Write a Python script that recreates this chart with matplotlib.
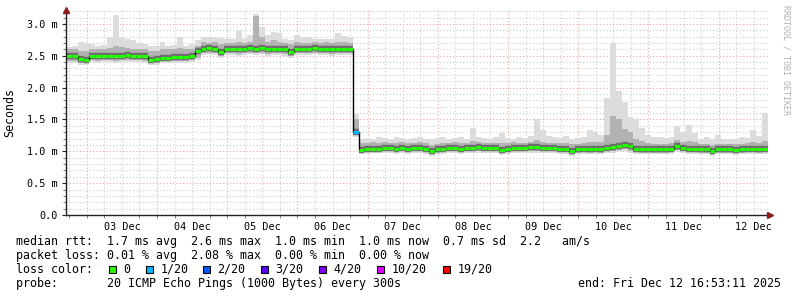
import matplotlib
matplotlib.use('Agg')
import matplotlib.pyplot as plt
from matplotlib.patches import Rectangle
import numpy as np

# smokeping style latency graph, 10 days, 2 hour buckets
# hours counted from the start of the graph (Dec 02 16:53:11)
step_h = 2
n = 120

med = [2.49, 2.49, 2.45, 2.44, 2.50, 2.49, 2.50, 2.50, 2.49, 2.50,
       2.51, 2.50, 2.50, 2.50, 2.44, 2.45, 2.47, 2.47, 2.48, 2.48,
       2.48, 2.50, 2.58, 2.61, 2.62, 2.61, 2.56, 2.61, 2.61, 2.60,
       2.61, 2.62, 2.61, 2.62, 2.60, 2.61, 2.61, 2.60, 2.56, 2.61,
       2.61, 2.61, 2.62, 2.61, 2.61, 2.60, 2.61, 2.61, 2.61, 1.30,
       1.02, 1.03, 1.04, 1.04, 1.05, 1.05, 1.04, 1.05, 1.04, 1.05,
       1.05, 1.04, 1.00, 1.03, 1.04, 1.05, 1.05, 1.04, 1.05, 1.05,
       1.06, 1.05, 1.05, 1.05, 1.02, 1.04, 1.05, 1.05, 1.05, 1.06,
       1.07, 1.05, 1.05, 1.05, 1.04, 1.04, 1.01, 1.03, 1.04, 1.03,
       1.04, 1.03, 1.05, 1.06, 1.08, 1.10, 1.08, 1.04, 1.03, 1.03,
       1.03, 1.03, 1.03, 1.04, 1.09, 1.05, 1.04, 1.04, 1.03, 1.03,
       1.01, 1.03, 1.03, 1.03, 1.02, 1.03, 1.04, 1.04, 1.03, 1.04]

# top of the light smoke (slowest pings)
smoke_hi = [2.64, 2.66, 2.72, 2.70, 2.68, 2.65, 2.67, 2.80, 3.14, 2.80,
            2.77, 2.75, 2.70, 2.68, 2.66, 2.65, 2.72, 2.66, 2.67, 2.80,
            2.66, 2.68, 2.74, 2.80, 2.79, 2.80, 2.78, 2.77, 2.76, 2.89,
            2.77, 2.82, 3.15, 2.95, 2.82, 2.88, 2.85, 2.76, 2.74, 2.82,
            2.79, 2.79, 2.77, 2.77, 2.77, 2.77, 2.85, 2.81, 2.79, 1.58,
            1.20, 1.21, 1.20, 1.22, 1.21, 1.20, 1.22, 1.21, 1.20, 1.21,
            1.22, 1.20, 1.19, 1.21, 1.22, 1.20, 1.21, 1.22, 1.20, 1.37,
            1.22, 1.21, 1.20, 1.22, 1.29, 1.21, 1.20, 1.22, 1.21, 1.24,
            1.50, 1.34, 1.24, 1.22, 1.21, 1.24, 1.20, 1.21, 1.22, 1.33,
            1.31, 1.25, 1.83, 2.70, 1.94, 1.78, 1.54, 1.51, 1.36, 1.25,
            1.22, 1.22, 1.21, 1.22, 1.39, 1.30, 1.41, 1.28, 1.20, 1.22,
            1.19, 1.25, 1.20, 1.19, 1.20, 1.22, 1.21, 1.33, 1.24, 1.60]

# darker smoke (bulk of the pings)
smoke_up = [2.60, 2.61, 2.58, 2.58, 2.60, 2.60, 2.61, 2.62, 2.66, 2.63,
            2.62, 2.61, 2.60, 2.60, 2.58, 2.58, 2.60, 2.60, 2.61, 2.62,
            2.60, 2.61, 2.66, 2.71, 2.70, 2.71, 2.68, 2.70, 2.70, 2.72,
            2.70, 2.71, 3.12, 2.80, 2.72, 2.74, 2.72, 2.70, 2.68, 2.71,
            2.70, 2.70, 2.71, 2.70, 2.71, 2.70, 2.72, 2.71, 2.70, 1.50,
            1.13, 1.13, 1.14, 1.13, 1.14, 1.13, 1.13, 1.14, 1.13, 1.13,
            1.14, 1.13, 1.10, 1.12, 1.13, 1.13, 1.14, 1.13, 1.13, 1.16,
            1.14, 1.13, 1.13, 1.13, 1.13, 1.13, 1.14, 1.13, 1.13, 1.15,
            1.18, 1.15, 1.13, 1.13, 1.13, 1.13, 1.11, 1.12, 1.13, 1.14,
            1.14, 1.14, 1.25, 1.55, 1.50, 1.35, 1.30, 1.20, 1.16, 1.13,
            1.12, 1.12, 1.12, 1.13, 1.18, 1.14, 1.16, 1.14, 1.12, 1.12,
            1.10, 1.12, 1.12, 1.12, 1.12, 1.12, 1.13, 1.15, 1.13, 1.16]

smoke_dn = [2.42, 2.42, 2.39, 2.39, 2.43, 2.42, 2.43, 2.43, 2.42, 2.43,
            2.43, 2.43, 2.43, 2.42, 2.38, 2.39, 2.41, 2.41, 2.42, 2.42,
            2.42, 2.43, 2.47, 2.54, 2.55, 2.54, 2.50, 2.54, 2.54, 2.53,
            2.54, 2.55, 2.54, 2.55, 2.53, 2.54, 2.54, 2.53, 2.50, 2.54,
            2.54, 2.54, 2.55, 2.54, 2.54, 2.53, 2.54, 2.54, 2.54, 1.25,
            0.98, 0.99, 1.00, 1.00, 1.00, 1.00, 0.99, 1.00, 0.99, 1.00,
            1.00, 0.99, 0.96, 0.98, 0.99, 1.00, 1.00, 0.99, 1.00, 1.00,
            1.00, 1.00, 1.00, 1.00, 0.97, 0.99, 1.00, 1.00, 1.00, 1.01,
            1.01, 1.00, 1.00, 1.00, 0.99, 0.99, 0.96, 0.98, 0.99, 0.98,
            0.99, 0.98, 1.00, 1.01, 1.02, 1.03, 1.01, 0.99, 0.98, 0.98,
            0.98, 0.98, 0.98, 0.99, 1.02, 1.00, 0.99, 0.99, 0.98, 0.98,
            0.96, 0.98, 0.98, 0.98, 0.97, 0.98, 0.99, 0.99, 0.98, 0.99]

# bottom of the light smoke (fastest pings)
smoke_lo = [2.39, 2.39, 2.36, 2.36, 2.40, 2.39, 2.40, 2.40, 2.39, 2.40,
            2.40, 2.40, 2.40, 2.39, 2.35, 2.36, 2.38, 2.38, 2.39, 2.39,
            2.39, 2.40, 2.44, 2.51, 2.52, 2.51, 2.47, 2.51, 2.51, 2.50,
            2.51, 2.52, 2.51, 2.52, 2.50, 2.51, 2.51, 2.50, 2.47, 2.51,
            2.51, 2.51, 2.52, 2.51, 2.51, 2.50, 2.51, 2.51, 2.51, 1.22,
            0.95, 0.96, 0.97, 0.97, 0.97, 0.97, 0.96, 0.97, 0.96, 0.97,
            0.97, 0.96, 0.93, 0.95, 0.96, 0.97, 0.97, 0.96, 0.97, 0.97,
            0.97, 0.97, 0.97, 0.97, 0.94, 0.96, 0.97, 0.97, 0.97, 0.98,
            0.98, 0.97, 0.97, 0.97, 0.96, 0.96, 0.93, 0.95, 0.96, 0.95,
            0.96, 0.95, 0.97, 0.98, 0.99, 1.00, 0.98, 0.96, 0.95, 0.95,
            0.95, 0.95, 0.95, 0.96, 0.99, 0.97, 0.96, 0.96, 0.95, 0.95,
            0.93, 0.95, 0.95, 0.95, 0.94, 0.95, 0.96, 0.96, 0.95, 0.96]

# lost pings per bucket (out of 20), only one bucket lost a ping
loss = [0] * 49 + [1] + [0] * 70

loss_labels = ['0', '1/20', '2/20', '3/20', '4/20', '10/20', '19/20']
loss_levels = [0, 1, 2, 3, 4, 10, 19]
loss_colors = ['#26ff00', '#00b8ff', '#0059ff', '#5e00ff', '#7e00ff', '#dd00ff', '#ff0000']

day_labels = ['03 Dec', '04 Dec', '05 Dec', '06 Dec', '07 Dec',
              '08 Dec', '09 Dec', '10 Dec', '11 Dec', '12 Dec']
first_midnight = 7.1136  # hours from start to Dec 03 00:00

y_ticks = [0.0, 0.5, 1.0, 1.5, 2.0, 2.5, 3.0]
y_labels = ['0.0', '0.5 m', '1.0 m', '1.5 m', '2.0 m', '2.5 m', '3.0 m']

legend_lines = [
    'median rtt:  1.7 ms avg  2.6 ms max  1.0 ms min  1.0 ms now  0.7 ms sd  2.2   am/s',
    'packet loss: 0.01 % avg  2.08 % max  0.00 % min  0.00 % now',
]
probe_text = 'probe:       20 ICMP Echo Pings (1000 Bytes) every 300s'
end_text = 'end: Fri Dec 12 16:53:11 2025'

W, H = 797, 297
mono = 'DejaVu Sans Mono'
fig = plt.figure(figsize=(W / 100, H / 100), dpi=100)
ax = fig.add_axes([66 / W, 82 / H, 702 / W, 205 / H])

x = np.arange(n + 1) * step_h
x0, x1 = x[:-1], x[1:]


def ext(a):
    return np.append(a, a[-1])


ax.fill_between(x, ext(smoke_lo), ext(smoke_hi), step='post', color='#dcdcdc', lw=0, zorder=2)
ax.fill_between(x, ext(smoke_dn), ext(smoke_up), step='post', color='#b2b2b2', lw=0, zorder=3)
ax.hlines(med, x0, x1, colors='#6e6e6e', lw=4.6, zorder=4)
ax.step(x, ext(med), where='post', color='black', lw=1.0, zorder=5)
seg_colors = [loss_colors[loss_levels.index(l)] for l in loss]
ax.hlines(med, x0, x1, colors=seg_colors, lw=2.2, zorder=6)

# grid
ymax = 3.218
ax.set_xlim(0, 240)
ax.set_ylim(0, ymax)
for h in np.arange(first_midnight - 6, 240, 6):
    major = abs((h - first_midnight) % 24) < 1e-6
    ax.axvline(h, color='#e9a7a7' if major else '#cccccc', lw=0.8,
               ls=(0, (1, 2)), zorder=1)
for v in np.arange(0.1, ymax, 0.1):
    major = abs(v * 2 - round(v * 2)) < 1e-6
    ax.axhline(v, color='#e9a7a7' if major else '#cccccc', lw=0.8,
               ls=(0, (1, 2)), zorder=1)

for s in ['top', 'right']:
    ax.spines[s].set_visible(False)
for s in ['left', 'bottom']:
    ax.spines[s].set_color('#222222')
    ax.spines[s].set_linewidth(1.0)
    ax.spines[s].set_zorder(7)

noon = [first_midnight + 12 + 24 * k for k in range(len(day_labels))]
ax.set_xticks(noon)
ax.set_xticklabels(day_labels, fontsize=7.3, family=mono)
ax.set_xticks(np.arange(first_midnight - 6, 240, 6), minor=True)
ax.tick_params(axis='x', which='major', length=0, pad=5)
ax.tick_params(axis='x', which='minor', length=2, color='#666666')
ax.set_yticks(y_ticks)
ax.set_yticklabels(y_labels, fontsize=7.3, family=mono)
ax.set_yticks(np.arange(0.1, ymax, 0.1), minor=True)
ax.tick_params(axis='y', which='major', length=3, pad=3, color='#222222')
ax.tick_params(axis='y', which='minor', length=2, color='#666666')

# axis arrows
ax.plot([0], [1.0], marker='^', ms=4.5, color='#8b1a1a', transform=ax.transAxes,
        clip_on=False, zorder=8)
ax.plot([1.003], [0], marker='>', ms=4.5, color='#8b1a1a', transform=ax.transAxes,
        clip_on=False, zorder=8)

fig.text(10 / W, 1 - 113 / H, 'Seconds', rotation=90, ha='center', va='center',
         fontsize=8.4, family=mono)
fig.text(786 / W, 1 - 5 / H, 'RRDTOOL / TOBI OETIKER', rotation=270, ha='center',
         va='top', fontsize=6, family=mono, color='#b0b0b0')

fs = 8.4
row_y = [241.5, 255.5, 269.5, 283.5]
for i, line in enumerate(legend_lines):
    fig.text(16.5 / W, 1 - row_y[i] / H, line, ha='left', va='center', fontsize=fs, family=mono)
fig.text(16.5 / W, 1 - row_y[2] / H, 'loss color:', ha='left', va='center', fontsize=fs, family=mono)
box_x = [109, 146, 203, 261, 319, 377, 443]
for bx, lab, col in zip(box_x, loss_labels, loss_colors):
    fig.patches.append(Rectangle((bx / W, 1 - 272.5 / H), 6.5 / W, 7 / H,
                                 transform=fig.transFigure, facecolor=col,
                                 edgecolor='black', lw=0.8))
    fig.text((bx + 14.5) / W, 1 - row_y[2] / H, lab, ha='left', va='center',
             fontsize=fs, family=mono)
fig.text(16.5 / W, 1 - row_y[3] / H, probe_text, ha='left', va='center', fontsize=fs, family=mono)
fig.text(780.5 / W, 1 - row_y[3] / H, end_text, ha='right', va='center', fontsize=fs, family=mono)

fig.savefig('out.png', dpi=100)
